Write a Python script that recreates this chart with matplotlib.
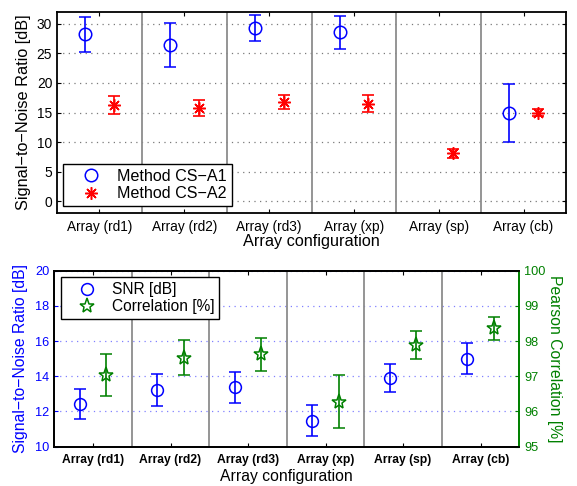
import numpy as np
import matplotlib
matplotlib.use("Agg")
import matplotlib.pyplot as plt
from matplotlib.lines import Line2D

plt.rcParams['font.family'] = ['Liberation Sans', 'DejaVu Sans']
plt.rcParams['axes.unicode_minus'] = True

categories = ['Array (rd1)', 'Array (rd2)', 'Array (rd3)', 'Array (xp)', 'Array (sp)', 'Array (cb)']

# Top panel: SNR per method
a1_mean = [28.2, 26.4, 29.3, 28.6, np.nan, 14.9]
a1_err = [3.0, 3.7, 2.15, 2.8, np.nan, 4.95]
a2_mean = [16.3, 15.7, 16.75, 16.5, 8.1, 15.0]
a2_err = [1.5, 1.35, 1.15, 1.4, 0.8, 0.65]

# Bottom panel: SNR and correlation
snr_mean = [12.43, 13.22, 13.37, 11.48, 13.9, 15.0]
snr_err = [0.85, 0.89, 0.87, 0.87, 0.82, 0.87]
corr_mean = [97.03, 97.53, 97.62, 96.28, 97.9, 98.36]
corr_err = [0.59, 0.49, 0.48, 0.75, 0.4, 0.33]

top_yticks = [0, 5, 10, 15, 20, 25, 30]
left_yticks = [10, 12, 14, 16, 18, 20]
right_yticks = [95, 96, 97, 98, 99, 100]

BLUE = (0, 0, 1)
RED = (1, 0, 0)
GREEN = (0, 0.5, 0)
SEP = '#8c8c8c'
OFF = 0.17

fig = plt.figure(figsize=(5.77, 4.86), dpi=100)
x = np.arange(1, len(categories) + 1)

# ---------------- top panel ----------------
ax1 = fig.add_axes([0.0988, 0.5617, 0.8822, 0.4136])
ax1.set_xlim(0.5, len(categories) + 0.5)
ax1.set_ylim(-2, 32)
ax1.set_yticks(top_yticks)
ax1.set_xticks(x)
ax1.set_xticklabels(categories, fontsize=9.8)
ax1.tick_params(axis='y', labelsize=9.9)
ax1.tick_params(direction='in', top=True, right=True, length=3, width=0.8)
ax1.tick_params(axis='x', pad=5)
ax1.yaxis.grid(True, linestyle=(0, (1, 3.5)), color='#7a7a7a', linewidth=0.9)
ax1.set_axisbelow(True)
for xs in x[:-1] + 0.5:
    ax1.axvline(xs, color=SEP, linewidth=1.3, zorder=1)
ax1.errorbar(x - OFF, a1_mean, yerr=a1_err, fmt='o', color=BLUE, mfc='none',
             mec=BLUE, ms=9, mew=1.1, elinewidth=1.2, capsize=4, capthick=1.2, zorder=3)
ax1.errorbar(x + OFF, a2_mean, yerr=a2_err, fmt='none', ecolor=RED,
             elinewidth=1.2, capsize=4, capthick=1.2, zorder=3)
ax1.plot(x + OFF, a2_mean, linestyle='none', marker=(8, 2, 0), color=RED,
         ms=9, mew=1.1, zorder=4)
for s in ax1.spines.values():
    s.set_linewidth(1.3)
ax1.set_ylabel('Signal\u2212to\u2212Noise Ratio [dB]', fontsize=11.7, labelpad=4)
ax1.set_xlabel('Array configuration', fontsize=11.7, labelpad=0)
h1 = Line2D([], [], linestyle='none', marker='o', color=BLUE, mfc='none', ms=9, mew=1.1)
h2 = Line2D([], [], linestyle='none', marker=(8, 2, 0), color=RED, ms=9, mew=1.1)
leg1 = ax1.legend([h1, h2], ['Method CS\u2212A1', 'Method CS\u2212A2'], loc='lower left',
                  bbox_to_anchor=(0.012, 0.035), borderaxespad=0, fontsize=11.6,
                  fancybox=False, edgecolor='black', framealpha=1,
                  handlelength=2.9, handletextpad=0.15, borderpad=0.3, labelspacing=0.15)
leg1.get_frame().set_linewidth(1.0)

# ---------------- bottom panel ----------------
ax2 = fig.add_axes([0.0941, 0.0809, 0.8059, 0.3621])
ax2.set_xlim(0.5, len(categories) + 0.5)
ax2.set_ylim(10, 20)
ax2.set_yticks(left_yticks)
ax2.set_xticks(x)
ax2.set_xticklabels(categories, fontsize=8.7, fontweight='bold')
ax2.tick_params(axis='y', labelsize=9.2, colors=BLUE)
ax2.tick_params(axis='x', colors='black', pad=5)
ax2.tick_params(direction='in', top=True, length=3, width=0.8)
ax2.yaxis.grid(True, linestyle=(0, (1, 3.5)), color='#8080ff', linewidth=0.9)
ax2.set_axisbelow(True)
for xs in x[:-1] + 0.5:
    ax2.axvline(xs, color=SEP, linewidth=1.3, zorder=1)
ax2.errorbar(x - OFF, snr_mean, yerr=snr_err, fmt='o', color=BLUE, mfc='none',
             mec=BLUE, ms=8.5, mew=1.1, elinewidth=1.2, capsize=4, capthick=1.2, zorder=3)
ax2.set_ylabel('Signal\u2212to\u2212Noise Ratio [dB]', fontsize=11.3, color=BLUE, labelpad=5)
ax2.set_xlabel('Array configuration', fontsize=11.3, labelpad=2.5)

ax3 = ax2.twinx()
ax3.set_ylim(95, 100)
ax3.set_yticks(right_yticks)
ax3.tick_params(axis='y', labelsize=9.2, colors=GREEN, direction='in', length=3, width=0.8)
ax3.errorbar(x + OFF, corr_mean, yerr=corr_err, fmt='*', color=GREEN, mfc='none',
             mec=GREEN, ms=11, mew=1.1, elinewidth=1.2, capsize=4, capthick=1.2, zorder=3)
ax3.set_ylabel('Pearson Correlation [%]', fontsize=11.3, color=GREEN, rotation=270,
               labelpad=12)
for s in list(ax2.spines.values()) + list(ax3.spines.values()):
    s.set_linewidth(1.3)
ax3.spines['right'].set_color(GREEN)
ax2.spines['right'].set_color(GREEN)

h3 = Line2D([], [], linestyle='none', marker='o', color=BLUE, mfc='none', ms=8.5, mew=1.1)
h4 = Line2D([], [], linestyle='none', marker='*', color=GREEN, mfc='none', ms=11, mew=1.1)
leg2 = ax3.legend([h3, h4], ['SNR [dB]', 'Correlation [%]'], loc='upper left',
                  bbox_to_anchor=(0.0144, 0.9625), borderaxespad=0, fontsize=11.2,
                  fancybox=False, edgecolor='black', framealpha=1,
                  handlelength=2.8, handletextpad=0.15, borderpad=0.3, labelspacing=0.15)
leg2.get_frame().set_linewidth(1.0)

fig.savefig('out.png', dpi=100)
